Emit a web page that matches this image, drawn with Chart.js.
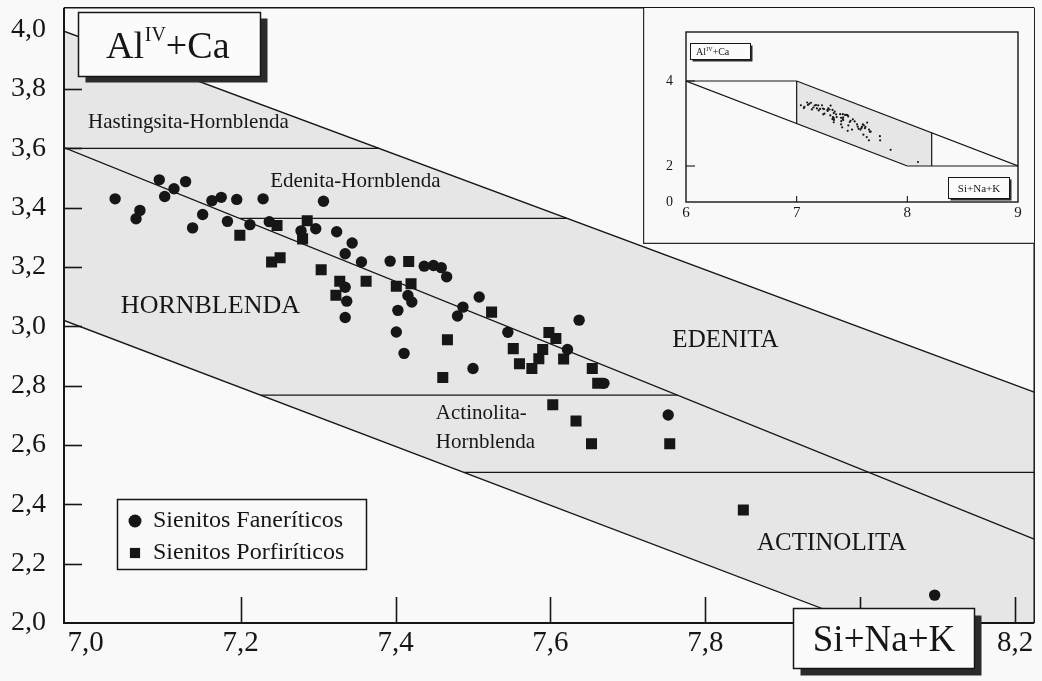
<!DOCTYPE html>
<html>
<head>
<meta charset="utf-8">
<script src="https://cdn.jsdelivr.net/npm/chart.js@4.4.1/dist/chart.umd.min.js"></script>
<style>
  html, body { margin: 0; padding: 0; background: #f9f9f9; }
  #wrap { position: relative; width: 1042px; height: 681px; overflow: hidden; }
  #main { position: absolute; left: 0; top: 0; width: 1042px; height: 681px; }
  #inset { position: absolute; left: 643px; top: 8px; width: 391px; height: 236px; }
</style>
</head>
<body>
<div id="wrap">
  <canvas id="main" width="1042" height="681"></canvas>
  <canvas id="inset" width="391" height="236"></canvas>
</div>
<script>
// ---- Axis ticks -------------------------------------------------------
const xTicks = [7.0, 7.2, 7.4, 7.6, 7.8, 8.0, 8.2];
const yTicks = [2.0, 2.2, 2.4, 2.6, 2.8, 3.0, 3.2, 3.4, 3.6, 3.8, 4.0];
const xRange = [6.972, 8.2245];
const yRange = [2.0, 4.074];

// ---- Analyses: [Si+Na+K, AlIV+Ca] ---------------------------------------
const faneriticos = [
  [7.038, 3.430], [7.065, 3.363], [7.070, 3.391], [7.095, 3.494], [7.102, 3.438],
  [7.114, 3.464], [7.129, 3.488], [7.138, 3.332], [7.151, 3.377], [7.163, 3.424],
  [7.175, 3.435], [7.183, 3.354], [7.195, 3.428], [7.212, 3.343], [7.229, 3.430],
  [7.237, 3.353], [7.278, 3.322], [7.297, 3.329], [7.307, 3.422], [7.324, 3.319],
  [7.344, 3.281], [7.335, 3.245], [7.335, 3.132], [7.337, 3.085], [7.335, 3.030],
  [7.356, 3.217], [7.393, 3.220], [7.437, 3.203], [7.449, 3.205], [7.459, 3.198],
  [7.466, 3.167], [7.416, 3.104], [7.421, 3.082], [7.403, 3.054], [7.401, 2.981],
  [7.411, 2.909], [7.480, 3.035], [7.508, 3.099], [7.487, 3.065], [7.500, 2.858],
  [7.545, 2.980], [7.637, 3.021], [7.622, 2.922], [7.669, 2.808], [7.752, 2.701],
  [8.096, 2.094]
];
const porfiriticos = [
  [7.199, 3.307], [7.247, 3.340], [7.240, 3.217], [7.251, 3.231], [7.286, 3.356],
  [7.280, 3.295], [7.304, 3.191], [7.328, 3.152], [7.323, 3.105], [7.362, 3.152],
  [7.417, 3.219], [7.401, 3.135], [7.420, 3.144], [7.467, 2.955], [7.461, 2.828],
  [7.524, 3.048], [7.552, 2.925], [7.560, 2.874], [7.576, 2.858], [7.585, 2.891],
  [7.590, 2.922], [7.598, 2.979], [7.607, 2.959], [7.617, 2.890], [7.654, 2.858],
  [7.661, 2.808], [7.603, 2.736], [7.633, 2.681], [7.653, 2.604], [7.754, 2.604],
  [7.849, 2.381]
];

// ---- Field boundaries of the classification diagram --------------------
const limiteSuperior = [[6.972, 3.995], [8.2245, 2.778]];
const limiteMedio = [[6.972, 3.603], [8.2245, 2.283]];
const limiteInferior = [[6.972, 3.020], [8.000, 2.000]];
const linhaHastingsita = [[6.972, 3.600], [7.379, 3.600]];
const linhaEdenitaHb = [[7.199, 3.364], [7.621, 3.364]];
const linhaActinolitaHb = [[7.226, 2.768], [7.764, 2.768]];
const linhaActinolita = [[7.488, 2.508], [8.2245, 2.508]];
const campoAnfibolio = [[6.972, 3.995], [8.2245, 2.778], [8.2245, 2.0], [8.0, 2.0], [6.972, 3.020]];

// ---- Field names ---------------------------------------------------------
const rotulos = [
  { text: 'Hastingsita-Hornblenda', x: 7.1326, y: 3.687, size: 21, align: 'center' },
  { text: 'Edenita-Hornblenda', x: 7.3481, y: 3.488, size: 21, align: 'center' },
  { text: 'HORNBLENDA', x: 7.161, y: 3.067, size: 26, align: 'center' },
  { text: 'EDENITA', x: 7.826, y: 2.953, size: 25, align: 'center' },
  { text: 'Actinolita-', x: 7.452, y: 2.707, size: 21, align: 'left' },
  { text: 'Hornblenda', x: 7.452, y: 2.609, size: 21, align: 'left' },
  { text: 'ACTINOLITA', x: 7.963, y: 2.269, size: 25, align: 'center' }
];

// ---- Overview diagram ----------------------------------------------------
const insetXTicks = [6, 7, 8, 9];
const insetYTickValues = [1.153, 2, 4];
const insetYTickLabels = ['0', '2', '4'];
const insetXRange = [6, 9];
const insetYRange = [1.153, 5.153];
const insetCampo = [[7, 4], [8.22, 2.78], [8.22, 2], [8, 2], [7, 3]];
const insetLimites = [
  [[6, 4], [7, 4]],
  [[7, 4], [9, 2]],
  [[6, 4], [8, 2]],
  [[7, 4], [7, 3]],
  [[8.22, 2.78], [8.22, 2]],
  [[8, 2], [9, 2]]
];

// ---- Styling -----------------------------------------------------------
const SERIF = "'Liberation Serif', 'Times New Roman', serif";
const ink = '#161616';
const paper = '#f9f9f9';
const shade = '#e6e6e6';
Chart.defaults.font.family = SERIF;
Chart.defaults.color = ink;

const toXY = pts => pts.map(([x, y]) => ({ x, y }));
const fmt = v => v.toFixed(1).replace('.', ',');

function boundary(pts, width) {
  return { data: toXY(pts), showLine: true, borderColor: ink, borderWidth: width,
           pointRadius: 0, fill: false, order: 2 };
}

function seg(ctx, x1, y1, x2, y2) {
  ctx.beginPath(); ctx.moveTo(x1, y1); ctx.lineTo(x2, y2); ctx.stroke();
}

function shadowBox(ctx, x, y, w, h, dx, dy, lw) {
  ctx.fillStyle = '#2b2b2b';
  ctx.fillRect(x + dx, y + dy, w, h);
  ctx.fillStyle = '#fbfbfb';
  ctx.fillRect(x, y, w, h);
  ctx.strokeStyle = ink;
  ctx.lineWidth = lw;
  ctx.strokeRect(x, y, w, h);
}

// "AlIV+Ca" with a superscript, starting at x on the given baseline
function drawAlCa(ctx, x, base, size, supSize, supRise) {
  ctx.fillStyle = ink;
  ctx.textAlign = 'left';
  ctx.textBaseline = 'alphabetic';
  ctx.font = size + 'px ' + SERIF;
  ctx.fillText('Al', x, base);
  let cx = x + ctx.measureText('Al').width + size * 0.02;
  ctx.font = supSize + 'px ' + SERIF;
  ctx.fillText('IV', cx, base - supRise);
  cx += ctx.measureText('IV').width;
  ctx.font = size + 'px ' + SERIF;
  ctx.fillText('+Ca', cx, base);
}

const mainDecor = {
  id: 'mainDecor',
  beforeDraw(chart) {
    const ctx = chart.ctx;
    ctx.save();
    ctx.fillStyle = paper;
    ctx.fillRect(0, 0, chart.width, chart.height);
    ctx.restore();
  },
  afterDatasetsDraw(chart) {
    const ctx = chart.ctx, xs = chart.scales.x, ys = chart.scales.y;
    ctx.save();
    ctx.fillStyle = ink;
    ctx.textBaseline = 'middle';
    rotulos.forEach(r => {
      ctx.font = r.size + 'px ' + SERIF;
      ctx.textAlign = r.align;
      ctx.fillText(r.text, xs.getPixelForValue(r.x), ys.getPixelForValue(r.y));
    });
    ctx.restore();
  },
  afterDraw(chart) {
    const ctx = chart.ctx, xs = chart.scales.x, ys = chart.scales.y;
    const { left, top, right, bottom } = chart.chartArea;
    ctx.save();
    ctx.strokeStyle = ink;

    // tick marks drawn inside the frame
    ctx.lineWidth = 1.6;
    xTicks.forEach(v => {
      if (v === xTicks[0]) return;
      const px = Math.round(xs.getPixelForValue(v)) + 0.5;
      seg(ctx, px, bottom, px, bottom - 26);
    });
    yTicks.forEach(v => {
      if (v === yTicks[0] || v === yTicks[yTicks.length - 1]) return;
      const py = Math.round(ys.getPixelForValue(v)) + 0.5;
      seg(ctx, left, py, left + 18, py);
    });

    // frame
    ctx.lineWidth = 2;
    seg(ctx, left, top, left, bottom + 1);
    seg(ctx, left - 1, bottom, right, bottom);
    ctx.lineWidth = 1.5;
    seg(ctx, left, top, right, top);
    seg(ctx, right, top, right, bottom);

    // legend
    const lg = { x: 117.5, y: 499.5, w: 249, h: 70 };
    ctx.fillStyle = paper;
    ctx.fillRect(lg.x, lg.y, lg.w, lg.h);
    ctx.lineWidth = 1.5;
    ctx.strokeRect(lg.x, lg.y, lg.w, lg.h);
    const entries = chart.data.datasets.filter(d => d.legendMarker);
    entries.forEach((d, i) => {
      const cy = 521 + i * 32;
      ctx.fillStyle = ink;
      Chart.helpers.drawPoint(ctx, { pointStyle: d.pointStyle, radius: d.legendMarker,
                                     borderWidth: 0, rotation: 0 }, 135, cy);
      ctx.fillStyle = ink;
      ctx.font = '24px ' + SERIF;
      ctx.textAlign = 'left';
      ctx.textBaseline = 'middle';
      ctx.fillText(d.label, 153, cy);
    });

    // axis titles in shadowed boxes
    shadowBox(ctx, 78.5, 12.5, 182, 64, 7, 6, 1.5);
    drawAlCa(ctx, 106, 58, 38, 20, 17);

    shadowBox(ctx, 793.5, 608.5, 181, 60, 7, 7, 1.5);
    ctx.fillStyle = ink;
    ctx.font = '37px ' + SERIF;
    ctx.textAlign = 'center';
    ctx.textBaseline = 'alphabetic';
    ctx.fillText('Si+Na+K', 884, 651);
    ctx.restore();
  }
};

new Chart(document.getElementById('main'), {
  type: 'scatter',
  data: {
    datasets: [
      { label: 'Sienitos Faneríticos', data: toXY(faneriticos), pointStyle: 'circle',
        pointRadius: 5.7, backgroundColor: ink, borderColor: ink, borderWidth: 0,
        order: 0, legendMarker: 6.5 },
      { label: 'Sienitos Porfiríticos', data: toXY(porfiriticos), pointStyle: 'rect',
        pointRadius: 7.8, backgroundColor: ink, borderColor: ink, borderWidth: 0,
        order: 1, legendMarker: 7.2 },
      boundary(limiteSuperior, 1.3),
      boundary(limiteMedio, 1.3),
      boundary(limiteInferior, 1.3),
      boundary(linhaHastingsita, 1.3),
      boundary(linhaEdenitaHb, 1.3),
      boundary(linhaActinolitaHb, 1.3),
      boundary(linhaActinolita, 1.3),
      { data: toXY(campoAnfibolio), showLine: true, fill: 'shape', backgroundColor: shade,
        borderWidth: 0, borderColor: 'rgba(0,0,0,0)', pointRadius: 0, order: 3 }
    ]
  },
  options: {
    responsive: false,
    animation: false,
    events: [],
    layout: { padding: { top: 7, right: 7, left: 0, bottom: 0 } },
    plugins: { legend: { display: false }, tooltip: { enabled: false } },
    scales: {
      x: {
        type: 'linear', min: xRange[0], max: xRange[1],
        grid: { display: false, drawTicks: false }, border: { display: false },
        ticks: { padding: 3, autoSkip: false, maxRotation: 0, color: ink,
                 font: { size: 29 }, callback: v => fmt(v) },
        afterBuildTicks: s => { s.ticks = xTicks.map(v => ({ value: v })); },
        afterFit: s => { s.height = 58; s.paddingLeft = 0; s.paddingRight = 0; }
      },
      y: {
        type: 'linear', min: yRange[0], max: yRange[1],
        grid: { display: false, drawTicks: false }, border: { display: false },
        ticks: { padding: 18, autoSkip: false, color: ink,
                 font: { size: 28 }, callback: v => fmt(v) },
        afterBuildTicks: s => { s.ticks = yTicks.map(v => ({ value: v })); },
        afterFit: s => { s.width = 64; s.paddingTop = 0; s.paddingBottom = 0; }
      }
    }
  },
  plugins: [mainDecor]
});

// ---- Overview diagram (top right) ---------------------------------------
const insetDecor = {
  id: 'insetDecor',
  beforeDraw(chart) {
    const ctx = chart.ctx;
    ctx.save();
    ctx.fillStyle = paper;
    ctx.fillRect(0, 0, chart.width, chart.height);
    ctx.restore();
  },
  afterDraw(chart) {
    const ctx = chart.ctx, xs = chart.scales.x, ys = chart.scales.y;
    const { left, top, right, bottom } = chart.chartArea;
    ctx.save();
    ctx.strokeStyle = '#2a2a2a';
    // outer frame of the overview
    ctx.lineWidth = 1.2;
    seg(ctx, 0.6, 0, 0.6, chart.height);
    seg(ctx, 0, chart.height - 0.6, chart.width, chart.height - 0.6);
    // plot box
    ctx.strokeStyle = ink;
    ctx.lineWidth = 1.4;
    ctx.strokeRect(left, top, right - left, bottom - top);
    ctx.lineWidth = 1.1;
    insetXTicks.slice(1, -1).forEach(v => {
      const px = xs.getPixelForValue(v);
      seg(ctx, px, bottom, px, bottom - 6);
    });
    [2, 4].forEach(v => {
      const py = ys.getPixelForValue(v);
      seg(ctx, left, py, left + 9, py);
    });
    // small axis title boxes
    shadowBox(ctx, 47.5, 35.5, 60, 16, 2, 2, 1);
    drawAlCa(ctx, 53, 47, 10, 6, 4);
    shadowBox(ctx, 305.5, 169.5, 61, 21, 2, 2, 1);
    ctx.fillStyle = ink;
    ctx.font = '11px ' + SERIF;
    ctx.textAlign = 'center';
    ctx.textBaseline = 'alphabetic';
    ctx.fillText('Si+Na+K', 336, 184);
    ctx.restore();
  }
};

const insetLine = pts => ({ data: toXY(pts), showLine: true, borderColor: ink, borderWidth: 1.2,
                            pointRadius: 0, fill: false, order: 2 });

new Chart(document.getElementById('inset'), {
  type: 'scatter',
  data: {
    datasets: [
      { data: toXY(faneriticos.concat(porfiriticos)), pointStyle: 'circle', pointRadius: 1.1,
        backgroundColor: ink, borderWidth: 0, order: 0 },
      ...insetLimites.map(insetLine),
      { data: toXY(insetCampo), showLine: true, fill: 'shape', backgroundColor: shade,
        borderWidth: 0, borderColor: 'rgba(0,0,0,0)', pointRadius: 0, order: 3 }
    ]
  },
  options: {
    responsive: false,
    animation: false,
    events: [],
    layout: { padding: { top: 24, right: 16, left: 0, bottom: 0 } },
    plugins: { legend: { display: false }, tooltip: { enabled: false } },
    scales: {
      x: {
        type: 'linear', min: insetXRange[0], max: insetXRange[1],
        grid: { display: false, drawTicks: false }, border: { display: false },
        ticks: { padding: 2, autoSkip: false, maxRotation: 0, color: ink,
                 font: { size: 15 }, callback: v => String(v) },
        afterBuildTicks: s => { s.ticks = insetXTicks.map(v => ({ value: v })); },
        afterFit: s => { s.height = 42; s.paddingLeft = 0; s.paddingRight = 0; }
      },
      y: {
        type: 'linear', min: insetYRange[0], max: insetYRange[1],
        grid: { display: false, drawTicks: false }, border: { display: false },
        ticks: { padding: 13, autoSkip: false, color: ink, font: { size: 14 },
                 callback: v => insetYTickLabels[insetYTickValues.indexOf(v)] },
        afterBuildTicks: s => { s.ticks = insetYTickValues.map(v => ({ value: v })); },
        afterFit: s => { s.width = 43; s.paddingTop = 0; s.paddingBottom = 0; }
      }
    }
  },
  plugins: [insetDecor]
});
</script>
</body>
</html>
